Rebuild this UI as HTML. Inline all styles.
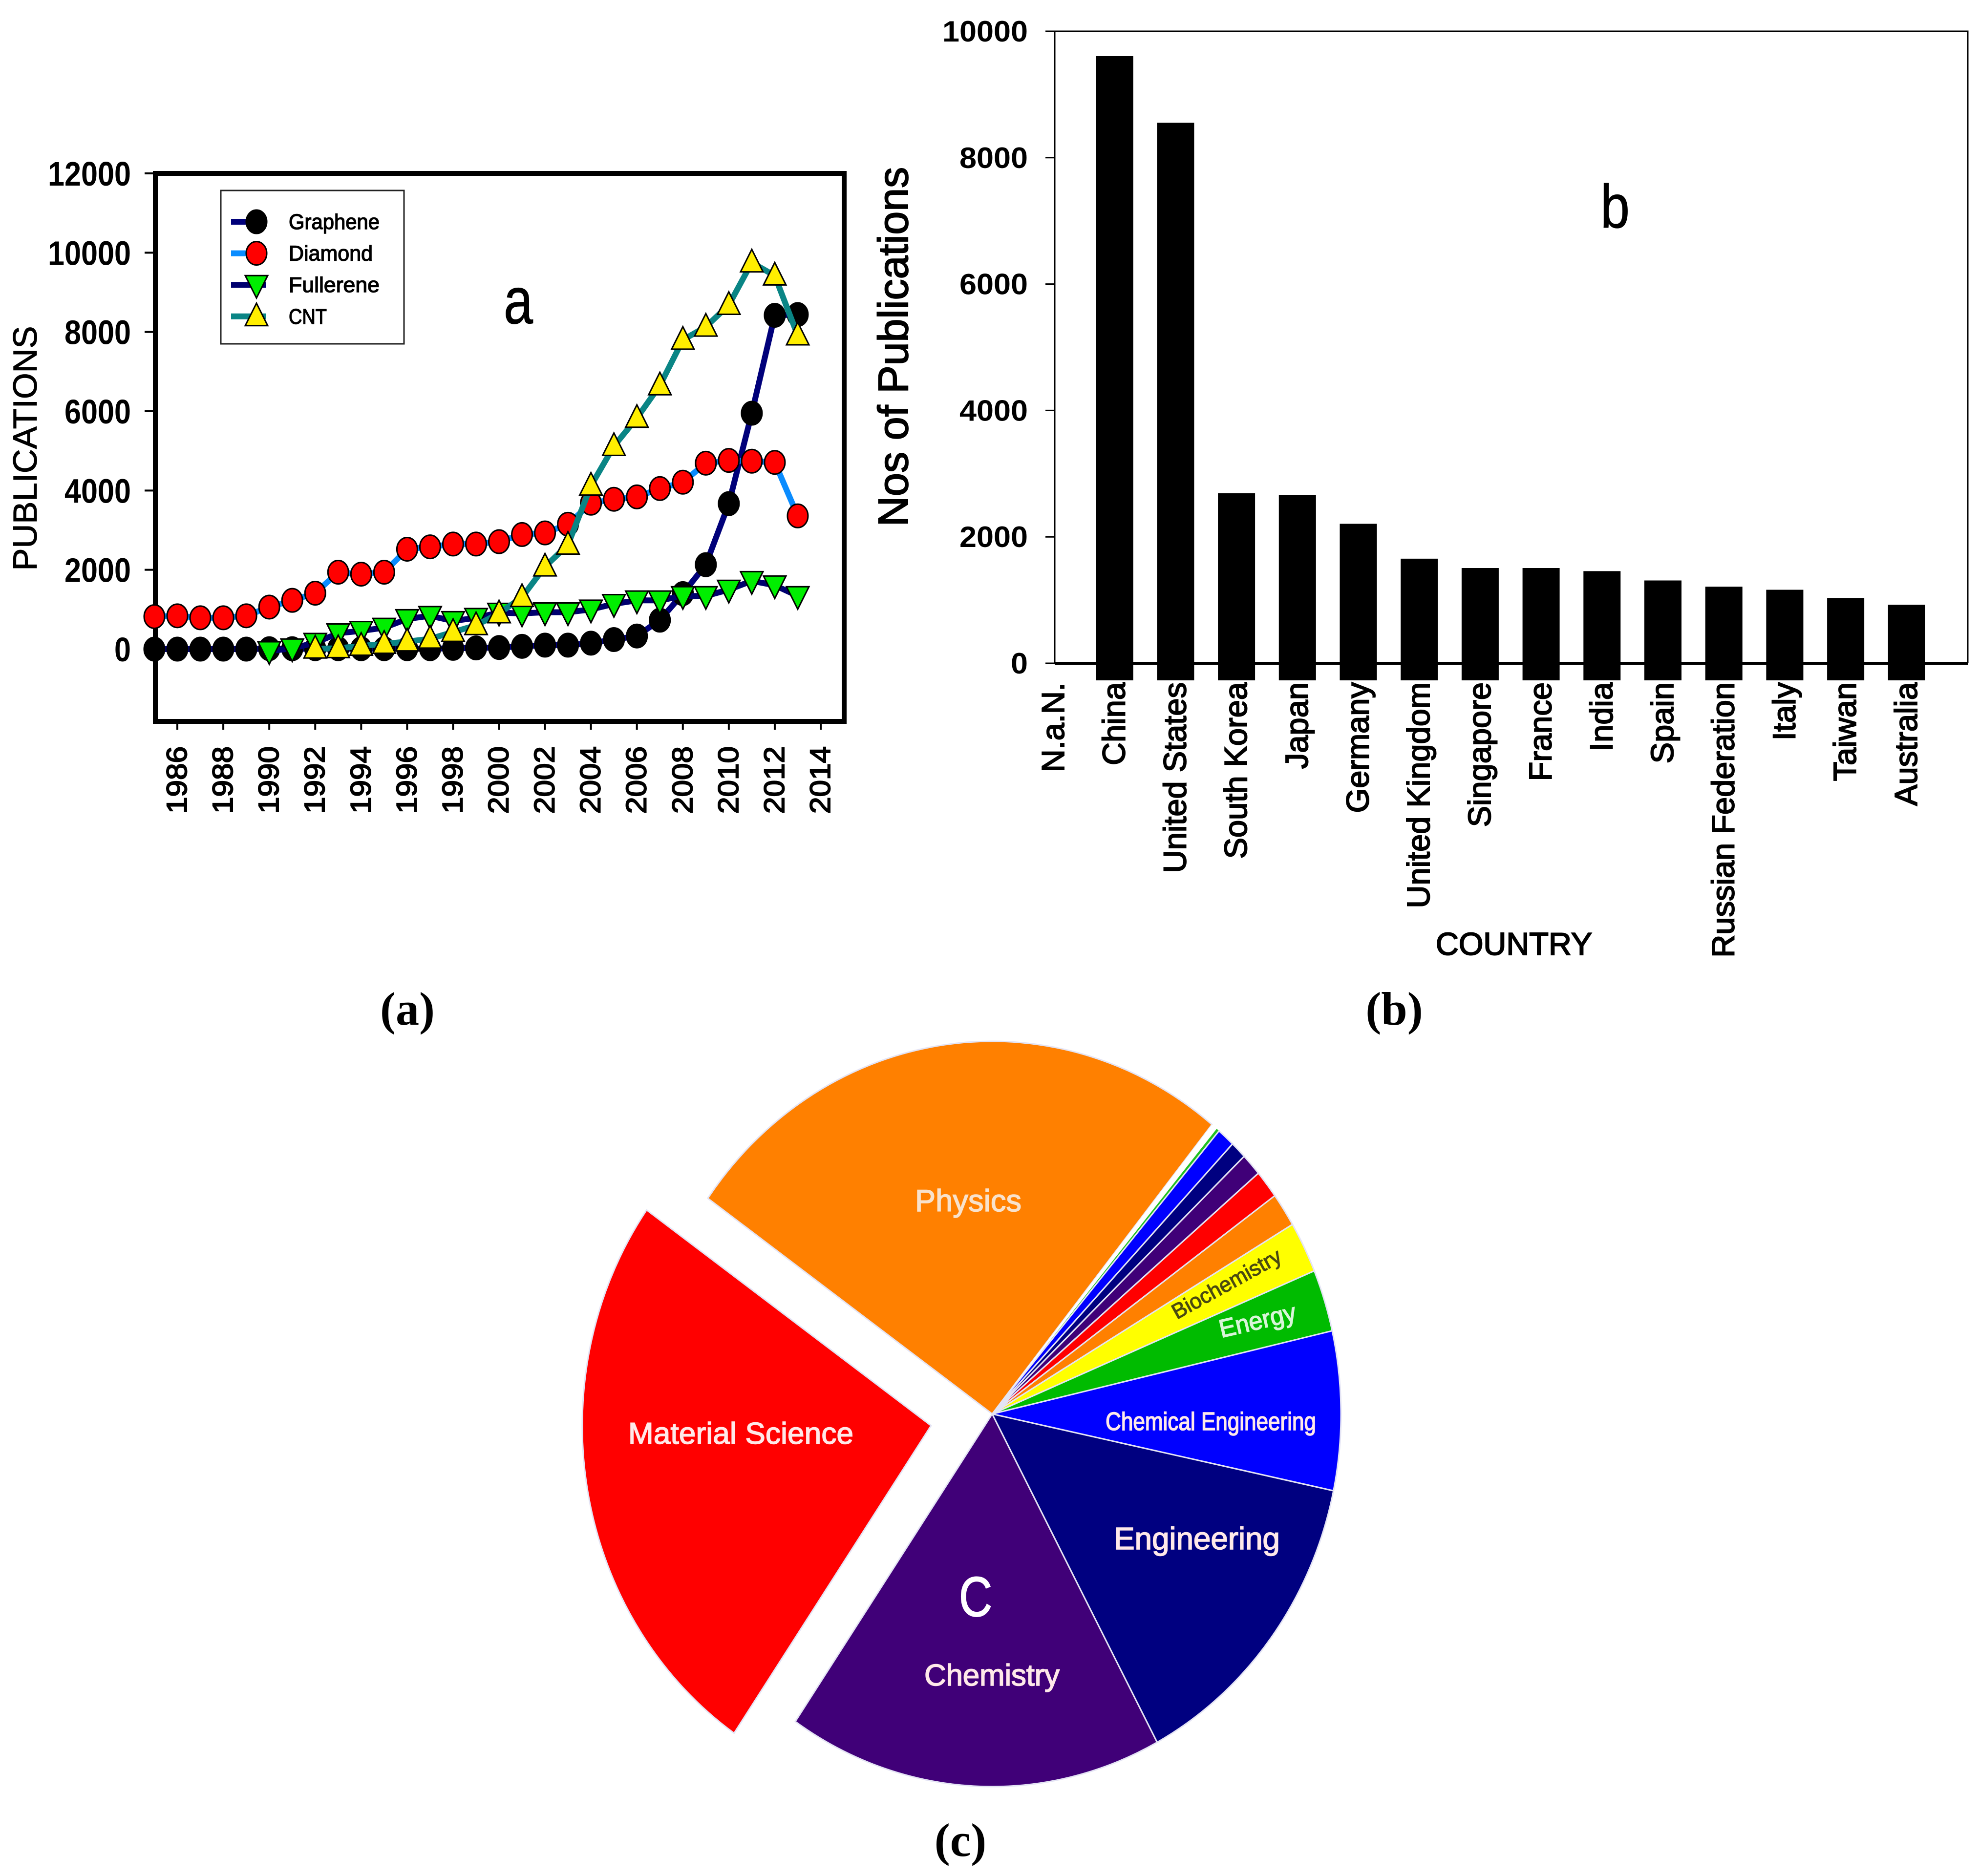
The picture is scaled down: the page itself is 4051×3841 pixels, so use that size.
<!DOCTYPE html>
<html lang="en">
<head>
<meta charset="utf-8">
<title>Publications charts: by material, country and subject</title>
<style>
  html, body { margin: 0; padding: 0; background: #fff; }
  svg { display: block; }
  text { font-family: "Liberation Sans", sans-serif; fill: #000; }
  .tick { font-weight: bold; }
  .heavy { stroke: #000; stroke-width: 2px; }
  .medium { stroke: #000; stroke-width: 1px; }
  .cap { font-family: "Liberation Serif", serif; font-weight: bold; font-size: 96px; text-anchor: middle; }
  .pie-label { fill: #ffe9e9; stroke: #ffe9e9; stroke-width: 1.6px; }
</style>
</head>
<body>
<svg id="figure" xmlns="http://www.w3.org/2000/svg" width="4051" height="3841" viewBox="0 0 4051 3841">
  <rect x="0" y="0" width="4051" height="3841" fill="#fff"/>

  <g id="panelA">
    <text class="medium" transform="translate(75,918) rotate(-90)" text-anchor="middle" font-size="69">PUBLICATIONS</text>
    <text class="medium" x="1031" y="662" font-size="135" textLength="60" lengthAdjust="spacingAndGlyphs">a</text>
  </g>

  <g id="panelB">
    <text class="heavy" transform="translate(1858,710) rotate(-90)" text-anchor="middle" font-size="86">Nos of Publications</text>
    <text class="heavy" x="3099" y="1955" text-anchor="middle" font-size="65">COUNTRY</text>
    <text class="medium" x="3276" y="466" font-size="125" textLength="60" lengthAdjust="spacingAndGlyphs">b</text>
  </g>

  <g id="panelC"></g>
  <g id="pieLabels">
    <text class="pie-label" x="1873" y="2480" font-size="63" textLength="218" style="fill:#f8e2cc;stroke:#f8e2cc">Physics</text>
    <text class="pie-label" x="1286" y="2956" font-size="62" textLength="461">Material Science</text>
    <text class="pie-label" x="1892" y="3451" font-size="62" textLength="277">Chemistry</text>
    <text class="pie-label" x="2280" y="3172" font-size="64" textLength="340">Engineering</text>
    <text class="pie-label" x="2263" y="2928" font-size="52" textLength="431" lengthAdjust="spacingAndGlyphs">Chemical Engineering</text>
    <text class="pie-label" transform="translate(2500,2739) rotate(-13)" font-size="52" textLength="160" lengthAdjust="spacingAndGlyphs" style="fill:#d8f5d8;stroke:#d8f5d8">Energy</text>
    <text transform="translate(2409,2702) rotate(-29)" font-size="44" textLength="249" lengthAdjust="spacingAndGlyphs" style="fill:#4a4a10;stroke:#4a4a10;stroke-width:1.2px">Biochemistry</text>
    <text x="1963" y="3309" font-size="115" textLength="68" lengthAdjust="spacingAndGlyphs" style="fill:#fff;stroke:#fff;stroke-width:2px">C</text>
  </g>

  <text class="cap" x="834" y="2098">(a)</text>
  <text class="cap" x="2854" y="2098">(b)</text>
  <text class="cap" x="1966" y="3800">(c)</text>
</svg>

<script>
// ---------- Panel a data ----------
const years = [1985,1986,1987,1988,1989,1990,1991,1992,1993,1994,1995,1996,1997,1998,1999,2000,2001,2002,2003,2004,2005,2006,2007,2008,2009,2010,2011,2012,2013];
const graphene = [0,0,0,0,0,10,10,10,10,10,10,10,10,20,30,40,70,100,100,150,240,330,730,1400,2130,3670,5950,8420,8440];
const diamond = [820,840,790,790,840,1060,1230,1410,1940,1890,1940,2520,2580,2650,2650,2710,2890,2930,3150,3680,3780,3840,4050,4210,4690,4760,4740,4710,3360];
const fullerene = [null,null,null,null,null,-50,20,160,400,460,540,760,840,710,790,920,900,930,930,1000,1140,1230,1230,1340,1340,1500,1720,1610,1340];
const cnt = [null,null,null,null,null,null,null,10,20,80,130,190,260,430,600,900,1310,2080,2630,4120,5120,5830,6650,7800,8130,8680,9750,9420,7910];
const seriesNames = ['Graphene','Diamond','Fullerene','CNT'];
const yearTicks = [1986,1988,1990,1992,1994,1996,1998,2000,2002,2004,2006,2008,2010,2012,2014];
const pubTicksA = [0,2000,4000,6000,8000,10000,12000];

// ---------- Panel b data ----------
const countries = ['N.a.N.','China','United States','South Korea','Japan','Germany','United Kingdom','Singapore','France','India','Spain','Russian Federation','Italy','Taiwan','Australia'];
const countryPubs = [0,9606,8552,2690,2660,2207,1655,1507,1507,1458,1310,1212,1163,1034,926];
const pubTicksB = [0,2000,4000,6000,8000,10000];

// ---------- Panel c data (percent share, clockwise from Chemical Engineering) ----------
const subjects = ['Chemical Engineering','Engineering','Chemistry','Material Science','Physics','Unlabelled gap','Minor green','Minor blue','Minor navy','Minor purple','Minor red','Minor orange','Biochemistry','Energy'];
const subjectShares = [6.89,13.86,17.39,25.28,26.03,0.28,0.14,0.83,0.75,0.97,1.22,1.47,2.22,2.69];
const subjectColors = ['#0000ff','#000080','#400078','#ff0000','#ff8000','#ffffff','#20c020','#0000ff','#000080','#400078','#ff0000','#ff8000','#ffff00','#00bb00'];
const explodedSubject = 'Material Science';

const NS = 'http://www.w3.org/2000/svg';
function make(tag, attrs, parent, txt) {
  const el = document.createElementNS(NS, tag);
  for (const k in attrs) el.setAttribute(k, attrs[k]);
  if (txt !== undefined) el.textContent = txt;
  parent.appendChild(el);
  return el;
}
function slug(s) { return String(s).toLowerCase().replace(/[^a-z0-9]+/g, '-').replace(/^-|-$/g, ''); }

// ---------- Panel a ----------
const panelA = document.getElementById('panelA');
const xA = y => 316 + (y - 1985) * (1680 - 316) / (2014 - 1985);
const yA = v => 1329 - v * (1329 - 355) / 12000;

const frameA = make('rect', {x:318, y:355, width:1410, height:1122, fill:'none', stroke:'#000', 'stroke-width':10}, panelA);



pubTicksA.forEach(v => {
  const t = make('line', {x1:296, x2:318, y1:yA(v), y2:yA(v), stroke:'#000', 'stroke-width':4}, panelA);
  
  
  const s = String(v);
  const l = make('text', {class:'tick', x:268, y:yA(v) + 25, 'text-anchor':'end', 'font-size':70, textLength:s.length * 34, lengthAdjust:'spacingAndGlyphs'}, panelA, s);
  
  
});
yearTicks.forEach(y => {
  const t = make('line', {x1:xA(y), x2:xA(y), y1:1477, y2:1494, stroke:'#000', 'stroke-width':4}, panelA);
  
  
  const l = make('text', {class:'heavy', transform:'translate(' + (xA(y) + 19) + ',1528) rotate(-90)', 'text-anchor':'end', 'font-size':58, textLength:138, lengthAdjust:'spacingAndGlyphs'}, panelA, String(y));
  
  
});

function marker(kind, cx, cy, parent, fill) {
  let m;
  if (kind === 'circle') {
    m = make('ellipse', {cx:cx, cy:cy, rx:21, ry:24, fill:fill, stroke:'#000', 'stroke-width':3}, parent);
  } else if (kind === 'down') {
    m = make('polygon', {points:(cx-23)+','+(cy-19)+' '+(cx+23)+','+(cy-19)+' '+cx+','+(cy+27), fill:fill, stroke:'#000', 'stroke-width':3}, parent);
  } else {
    m = make('polygon', {points:(cx-23)+','+(cy+19)+' '+(cx+23)+','+(cy+19)+' '+cx+','+(cy-27), fill:fill, stroke:'#000', 'stroke-width':3}, parent);
  }
  return m;
}
const seriesData = [graphene, diamond, fullerene, cnt];
const lineColors = ['#00007a','#0a8cff','#00006e','#0a8585'];
const markerFills = ['#000000','#ff0000','#00ee00','#ffee00'];
const markerKinds = ['circle','circle','down','up'];

seriesData.forEach((vals, si) => {
  const g = make('g', {}, panelA);
  
  
  const pts = [];
  vals.forEach((v, i) => { if (v !== null) pts.push(xA(years[i]).toFixed(1) + ',' + yA(v).toFixed(1)); });
  const pl = make('polyline', {points:pts.join(' '), fill:'none', stroke:lineColors[si], 'stroke-width':12, 'stroke-linejoin':'round'}, g);
  
  
  vals.forEach((v, i) => {
    if (v === null) return;
    const m = marker(markerKinds[si], xA(years[i]), yA(v), g, markerFills[si]);
    
    
  });
});

// Legend
const legend = make('g', {}, panelA);


const legendBox = make('rect', {x:452, y:390, width:375, height:314, fill:'#fff', stroke:'#222', 'stroke-width':3}, legend);


seriesNames.forEach((name, i) => {
  const ly = 454 + i * 64.6;
  const e = make('g', {}, legend);
  
  
  make('line', {x1:473, x2:545, y1:ly, y2:ly, stroke:lineColors[i], 'stroke-width':12}, e);
  marker(markerKinds[i], 525, ly, e, markerFills[i]);
  make('text', {x:591, y:ly + 15, 'font-size':44, textLength:(name === 'CNT' ? 78 : name === 'Diamond' ? 172 : 186), lengthAdjust:'spacingAndGlyphs', stroke:'#000', 'stroke-width':1.4}, e, name);
});

// ---------- Panel b ----------
const panelB = document.getElementById('panelB');
const xB = i => 2157 + i * 124.7;
const yB = v => 1358 - v * (1358 - 64) / 10000;
const barBottom = 1393;
const barWidth = 76;

const frameB = make('path', {d:'M2159 ' + yB(0) + ' V64 H4028 V' + yB(0), fill:'none', stroke:'#000', 'stroke-width':3}, panelB);



countries.forEach((c, i) => {
  if (countryPubs[i] > 0) {
    const b = make('rect', {x:xB(i) - barWidth / 2, y:yB(countryPubs[i]), width:barWidth, height:barBottom - yB(countryPubs[i]), fill:'#000'}, panelB);
    
    
  }
  const l = make('text', {class:'heavy', transform:'translate(' + (xB(i) + 21) + ',1397) rotate(-90)', 'text-anchor':'end', 'font-size':65}, panelB, c);
  
  
});
const axisB = make('line', {x1:2159, x2:4028, y1:yB(0), y2:yB(0), stroke:'#000', 'stroke-width':6}, panelB);


pubTicksB.forEach(v => {
  const t = make('line', {x1:2140, x2:2159, y1:yB(v), y2:yB(v), stroke:'#000', 'stroke-width':3}, panelB);
  
  
  const s = String(v);
  const l = make('text', {class:'tick', x:2104, y:yB(v) + 21, 'text-anchor':'end', 'font-size':60, textLength:s.length * 35, lengthAdjust:'spacingAndGlyphs'}, panelB, s);
  
  
});

// ---------- Panel c ----------
const panelC = document.getElementById('panelC');
const pieCx = 2031, pieCy = 2895, pieRx = 714, pieRy = 763;
const startAngle = -12.9;
const explodeFraction = 0.178;
const shareTotal = subjectShares.reduce((a, b) => a + b, 0);
const angleOf = share => share / shareTotal * 360;
let cursor = startAngle;
subjects.forEach((name, i) => {
  const a0 = cursor;
  const a1 = cursor + angleOf(subjectShares[i]);
  cursor = a1;
  const r0 = a0 * Math.PI / 180, r1 = a1 * Math.PI / 180, mid = (r0 + r1) / 2;
  const off = name === explodedSubject ? explodeFraction : 0;
  const cx = pieCx + off * pieRx * Math.cos(mid);
  const cy = pieCy + off * pieRy * Math.sin(mid);
  const x0 = cx + pieRx * Math.cos(r0), y0 = cy + pieRy * Math.sin(r0);
  const x1 = cx + pieRx * Math.cos(r1), y1 = cy + pieRy * Math.sin(r1);
  const large = a1 - a0 > 180 ? 1 : 0;
  const d = 'M' + cx.toFixed(1) + ' ' + cy.toFixed(1) + ' L' + x0.toFixed(1) + ' ' + y0.toFixed(1) +
            ' A' + pieRx + ' ' + pieRy + ' 0 ' + large + ' 1 ' + x1.toFixed(1) + ' ' + y1.toFixed(1) + ' Z';
  const s = make('path', {d:d, fill:subjectColors[i], stroke:'#e4e4f4', 'stroke-width':(subjectShares[i] < 0.5 ? 0 : 3), 'stroke-linejoin':'round'}, panelC);
  
  
});
</script>
</body>
</html>
